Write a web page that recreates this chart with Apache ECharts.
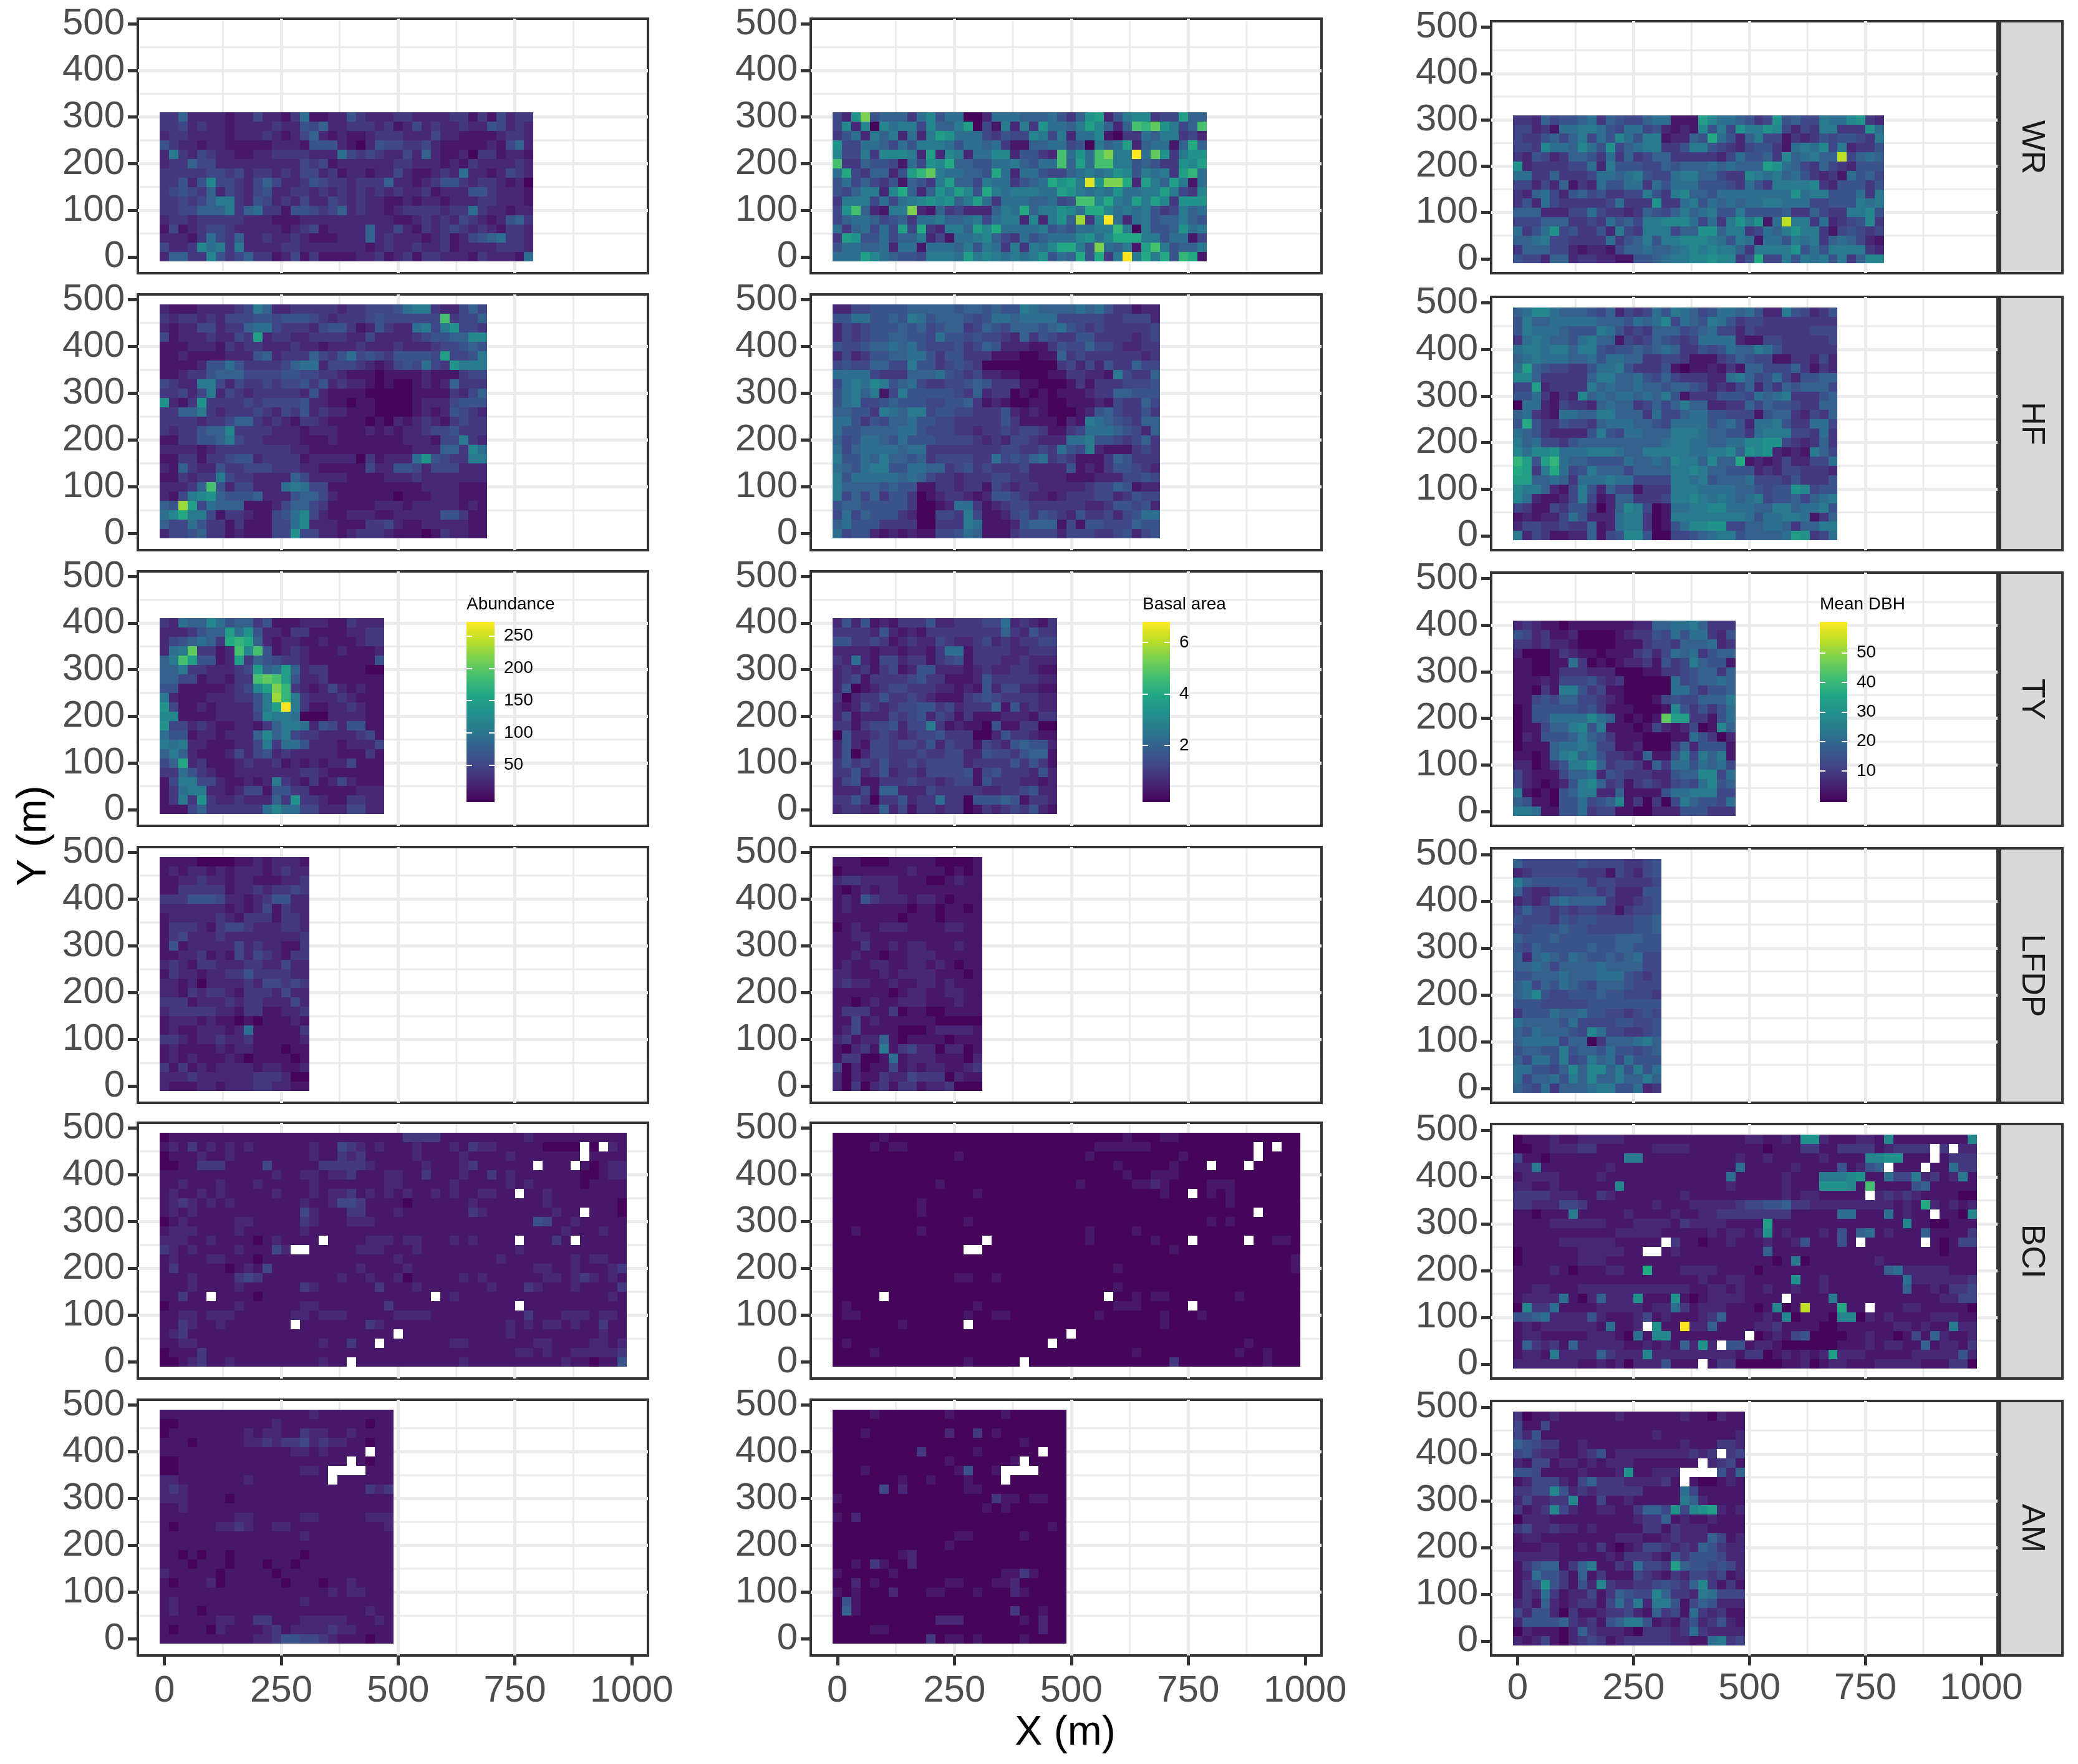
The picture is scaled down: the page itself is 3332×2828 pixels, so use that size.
<!DOCTYPE html>
<html><head><meta charset="utf-8">
<style>html,body{margin:0;padding:0;background:#fff}#c{width:3332px;height:2828px}</style>
<script src="https://cdn.jsdelivr.net/npm/echarts@6/dist/echarts.min.js"></script>
</head><body><div id="c"></div>
<script>
// Colour-scale position estimated by eye for each 20 m cell: 0..k = low..high in 5% steps, x = missing.
// Rows run from the top of the plot downward.
const plots=["WR","HF","TY","LFDP","BCI","AM"];
const measures=["Abundance","Basal area","Mean DBH"];
const valueRanges=[[-7.6,272],[-0.2,6.8],[-0.6,60.5]];
const legendTicks=[[50,100,150,200,250],[2,4,6],[10,20,30,40,50]];
const xTicks=[0,250,500,750,1000];
const yTicks=[0,100,200,300,400,500];
const xMinor=[125,375,625,875];
const yMinor=[50,150,250,350,450];

const abundanceWR=[
"3362222122 4221371122 5322233222 2331314233",
"3342322122 2232254622 3332312423 2232254232",
"2332222122 2321246212 1123332224 2211112332",
"5322122111 1122215552 1025443342 1111121462",
"2832432211 2233332227 4343224262 1120331221",
"2336442222 2222243412 2222233222 1213222232",
"3333344342 3323244231 2212242112 3272212432",
"3352594432 4642235433 2333622123 5532332120",
"3454362432 4522332323 2323232231 2225532221",
"3343468832 5423242243 2322112122 1222332221",
"3344666836 7331554346 2322123333 2337322122",
"2332333332 2211122222 2222211232 3243212563",
"1412344322 2221234122 2262242132 3432321332",
"2221374362 2322321112 2262322212 3124567332",
"4223978382 2223322222 2212322322 3122223332",
"2663395346 3312413111 1223123133 2221322217"];
const basalWR=[
"42ag566637 9577002777 6667536ab2 5899344b66",
"4929097884 9668b04182 83a7768b96 26edfa846e",
"3572868272 8ba7774354 4984827791 0337688342",
"a447764758 8875776731 1667745086 7b267716c6",
"9448399982 b298277992 5532e7a7eg 88k7fa38aa",
"e336554174 a9c6655778 6577e6b7ee 8856533a9b",
"7c436625bd f877665c72 7754467878 a958783bd7",
"5746435165 38b6648773 567cab8jag gc2b86b817",
"5468829c62 6a8b95c878 8877ba8787 a7788b8439",
"3888474789 a9a68b7377 766745ee9c 87b8b93aaa",
"4ae62188g2 1634222687 c688a97cc9 7878534867",
"4677645637 7866784788 2928a6h39k 7278566865",
"7367474b4c 32886b9c77 7785657788 d808556a78",
"3ba5574668 2417789643 7567779a79 ccc8857714",
"5776672771 7776858738 3879cc85g7 681be85668",
"777b976554 8887b89878 78a576c5c3 8k8c8c5dc1"];
const dbhWR=[
"3326455673 6544677111 b9776534a5 6448779a32",
"4423177887 5477452121 9584a88a94 24388333a7",
"4335646847 5975881226 5c75268441 3235455438",
"4439776975 a467883358 8543245531 7879482335",
"3254236653 7363466333 3324755639 67866i4676",
"a233334472 8555446566 6767666ba7 6436432555",
"7733633347 7678544788 6643398786 7532317564",
"4424261327 5577375777 5554375388 8893255535",
"3267425645 3344853896 6577777777 a788555738",
"3527433333 47333a3378 5767677887 7744555878",
"6662224474 3323654686 7855855556 3364338895",
"4446663343 7564889997 4738a8a17i 8837234593",
"7357a45335 2843888466 aa68834768 a883145434",
"6678443333 7356858899 9875871775 8783676421",
"3666442122 1466766789 8988638888 a575888832",
"5442662332 2115567889 9a9935c448 5878583699"];

const abundanceHF=[
"2111222234 8622333332 3344457883 22464",
"3233232444 5545554323 3345444444 e3446",
"2122442336 7743332455 3125322784 8a443",
"4122232243 b233223333 2242222345 56699",
"1112221323 3222322122 2322232223 44565",
"1121111222 5623336435 7454355554 b4458",
"1111255753 3334677244 4321245474 3a888",
"1123356664 4445544332 1110111121 11344",
"4322884243 3434453523 2210100121 26333",
"3342482432 3333325211 1100000111 13246",
"a213a33334 3444452211 0110000122 24555",
"3366832333 4324352322 1110000121 25432",
"3333233466 3232133211 1101021232 13433",
"3233566933 3322212221 1121212234 45333",
"1133556843 3222211121 1111112221 44832",
"2222123333 3333221111 1111111222 66397",
"1133133455 2333312222 20312227a5 43388",
"2163225334 4433322111 1142255424 44222",
"1132338433 2222642222 1111222322 22222",
"22236e5244 2227874411 1111111122 22111",
"21489a6555 6222566421 1111101112 22111",
"65hb476661 1124664311 1112221222 22121",
"79c8841332 1145794211 2221122222 55311",
"6447533131 1144792221 1133421122 22211",
"2445633121 1144a44221 2333211101 32211"];
const basalHF=[
"2244555566 6665665655 8766667675 33122",
"5577556587 5666545776 7777444443 34442",
"2434555656 4566346546 6656754343 33334",
"2434556655 4755454432 6354335533 33234",
"5445667675 4445346522 2113544644 32233",
"2423556677 5355333111 0011634333 33323",
"4544664485 5345430000 0000342425 33644",
"7777433366 6754342211 0001133221 84336",
"4787985674 3344565333 1100013133 34445",
"5786814855 5554362330 1010111233 66555",
"5784456555 4455631210 0110011121 43364",
"6655387688 4554433352 1210001256 43353",
"7753546675 5443333353 1111021876 54366",
"7556666775 4443323343 4431134777 65426",
"6457765755 5444432324 4322277855 43463",
"7467777677 3333333344 3343754821 11343",
"8557686656 3444433745 4673431113 65333",
"7657885577 6634534333 4222251213 55432",
"8577777676 4332333443 3222211122 24454",
"8666656551 1332331432 3322222344 65122",
"8464635530 1233212554 3221233344 23544",
"5665555530 0127731234 4333333223 55452",
"4746555320 0443841124 5354325334 24577",
"6755533330 0333871112 5666141554 44655",
"7455212121 1445761113 4444244433 45245"];
const dbhHF=[
"6799766654 6243475876 4577675228 54235",
"5866777776 6657679476 5875344333 33333",
"5877765558 7534366645 6744243333 33444",
"3787665786 6143465434 7777211443 33334",
"7887886885 4556567633 5457668753 33333",
"6787776675 7766334431 1134654411 33242",
"7b65443357 7853335101 1213166444 63132",
"9963333368 8667546433 3227864574 25566",
"44b2333386 7667665665 4232462536 56664",
"5573132967 6776768513 3355547678 33356",
"0772143326 7663464686 6223364655 43366",
"6732177668 8666374467 7554441566 32436",
"5c53354436 7776654777 7567527785 33774",
"7653222258 5477666888 7665537888 44373",
"8674435666 6666667887 7667799aa4 32363",
"9799a77788 8766888887 78896a9a21 21864",
"db5bd76655 5576676988 6966c12124 22447",
"cb38c74586 6646666889 8665552324 43332",
"bb66763777 8774444887 8566674443 53335",
"9886214852 6441333888 7777665455 a9455",
"9721124841 2663334889 8787678455 64678",
"4311435530 2698401778 8997776688 67785",
"1212247522 2788301888 8888875778 87136",
"2443343361 2788301579 9aa4466776 36688",
"8243112261 4599500445 6788566667 ba347"];

const abundanceTY=[
"3276697566 3511122211 3222",
"2223566b7a 5221331111 2233",
"2456763cdc 6212211211 1233",
"278f3312e9 e512321112 1112",
"68eb5512b3 6543321111 1115",
"6683322234 b67b623311 1100",
"6644122133 efeb522311 1111",
"5511111234 9bgd321242 1211",
"8211122233 58hd832223 2111",
"a411212222 58bk831122 3211",
"9911112222 4988700022 2211",
"a442321122 1368872542 5511",
"7551221222 6968433222 2341",
"8782211122 4837752221 2224",
"6862111242 4523222221 1131",
"46c2311123 2231212122 4111",
"3375321122 2222233211 1111",
"1488442112 1283213124 2111",
"1378822124 4155331111 1222",
"1383a32232 2263a33211 3322",
"1114633333 3797744222 4422"];
const basalTY=[
"2525121333 5223334472 3213",
"3333252121 3333333363 2533",
"5533431232 2432234232 3344",
"2222122122 1377133332 2333",
"3272144233 1345133322 3222",
"2323134125 5222123223 3211",
"2341333345 3311125333 3322",
"2501234433 3221215244 2211",
"3023353343 2111345433 3322",
"2124323445 5342333615 2322",
"2412224345 2431311122 2133",
"3313445244 8312110511 3300",
"0522343234 4533300253 3211",
"2521443443 5243314325 6552",
"2502443334 3344225443 5661",
"3534353343 4444233335 3531",
"3352352332 4444514533 3252",
"2451133343 3234415333 2212",
"2224166222 4333332233 4522",
"3353033523 3733055565 1332",
"2332262413 3233013234 3521"];
const dbhTY=[
"2321101111 1112266778 6333",
"5423112000 0123354757 7325",
"3323221000 0111344366 6723",
"2000132110 1113424767 3566",
"1100117301 0122315348 6551",
"1100133322 2000113345 6636",
"1112144453 2300000745 6676",
"1103188534 1100000775 3556",
"1145466443 2100014544 6668",
"0155555453 1110001953 5357",
"0155777797 610101fbb3 3157",
"0114668958 1110142124 0196",
"0215556865 3111000117 5302",
"0111677874 4112000362 5551",
"1101689675 3321611584 8681",
"22013588a6 3443163775 7674",
"4211146672 5433322566 9947",
"4210125896 3413432454 7956",
"8101056882 2611115778 8844",
"6511055745 6913030486 5547",
"8871155734 4110022255 5333"];

const abundanceLFDP=[
"1111000011 212221",
"1212212122 212322",
"1122322122 111223",
"1133333122 323343",
"3335554221 235522",
"2222222121 241322",
"1222223213 331332",
"1333213443 222332",
"1342223222 222223",
"1512222242 322113",
"1122312142 432133",
"2321332223 322422",
"1322122335 333322",
"2212022223 244343",
"2213233213 332422",
"3331222323 322242",
"2333332213 311223",
"1222121101 011121",
"1211222127 111113",
"3321223223 111112",
"1211112122 111011",
"1212111210 111101",
"3131212222 122112",
"2223222222 333200",
"2111221222 332211"];
const basalLFDP=[
"1110001111 100001",
"0111111121 110101",
"2332222111 001211",
"1012122111 111111",
"1215322212 210111",
"1211111101 101101",
"1111111011 101111",
"0121122211 112211",
"1122111111 111111",
"1113112122 111211",
"1121101122 211111",
"1211221122 121011",
"2211121222 211101",
"2322112112 212111",
"1111110122 112211",
"1101211222 111211",
"1333113011 001111",
"1141211111 100000",
"1241111000 122221",
"2312261011 110111",
"1023181342 202201",
"1330017122 211102",
"4020114121 221123",
"2021132243 330211",
"2030231331 223000"];
const dbhLFDP=[
"6444444544 443345",
"2344444333 143245",
"8655555534 433334",
"6322344553 422255",
"2323676666 322345",
"4644343443 313445",
"5444354554 444556",
"4455565544 444556",
"6555655555 566655",
"5465555565 566555",
"6267657655 656744",
"6676466667 666644",
"5566676667 775434",
"6746576546 665444",
"6795445556 554443",
"5554444455 555555",
"3555766755 443454",
"7666657444 455445",
"6576665497 443345",
"6777746603 666786",
"5665585665 755456",
"6477584586 747555",
"7755469699 685857",
"7466758696 686686",
"6547366678 855723"];

const abundanceBCI=[
"0111111111 1111111111 1111113333 1111111112 1111111111",
"1213121212 1111112114 3212111211 1213221111 10000x0x21",
"0111211211 1111112113 2311111211 1121111211 11111x1111",
"0011333111 1411111333 3321111121 1123111111 x111x10122",
"1111111111 1121122122 3111221131 1121131211 1111100122",
"1121112111 2111112111 1111221111 1211111212 1111101111",
"1211212111 1121112122 3121212112 12112211x1 1211111111",
"1232121211 1111121124 4311110111 1112111111 1211111110",
"1212111111 1111142111 3311121111 1113211111 11211x1110",
"0121111122 1111132111 2221111111 1111111111 5411211111",
"1222111121 1111121111 1111111111 1111111111 1112111211",
"2221121111 0121111x11 1122212211 12121111x1 1131x11111",
"3212111121 1142xx1111 1222111211 1111111121 1111111111",
"1211122111 0111111111 1111121111 1111112111 1111212211",
"1311111012 1411111111 1211112111 1111111111 2211211123",
"1112111134 3111111112 1121120111 1121211111 1221232121",
"1112111121 1111132111 1113111211 1111121113 2111211113",
"11311x1111 0111111111 111111111x 1211111111 1111111121",
"0111111121 1111122111 1111311111 11111111x1 1111111111",
"1122122211 1111221222 1111122221 1111111113 1112221221",
"1132112111 1111x11111 1132111111 1111111212 1221211311",
"1231111111 1111111111 11111x1111 1111111211 1111111211",
"1122111111 1111111211 311x111111 1221111111 2211112212",
"0111311111 1111111111 1111111111 1111111122 1211222223",
"0012311211 1111111211 x111111111 1121111111 1112110115"];
const basalBCI=[
"0000010000 0000000000 0000000000 0100011000 0000000000",
"0000101100 0000000000 0000000011 1111000000 00000x0x00",
"0000000000 0001000000 0000000100 0000000100 00000x0000",
"0000000000 0000000000 0000000000 1000001000 x000x00000",
"0000000000 0000000000 0000000000 0100111000 0000000000",
"0000000000 0100000000 0000001000 0011210000 1110000000",
"0000000000 0000010000 0000000000 00000100x0 1010000000",
"0000000001 0000000000 0000000000 0000000000 0010000000",
"0000000001 0000000000 0000000000 0000000000 00000x0000",
"0000000000 0000100000 0000000000 0000000000 1010000000",
"0010000001 0000000000 0000000100 0010000000 0000000000",
"0000000000 000000x000 0000000100 00001000x0 0000x00110",
"0000000000 0000xx0000 0000000000 0000001000 0000000000",
"0000000000 0000000000 0000000000 0000000000 0000000001",
"0000000000 0000000000 0000000000 1000000000 0000000001",
"0000000000 0001100100 0000000000 0000000000 0000000000",
"0000000000 0000000000 0000000000 1000000000 0000000000",
"00000x0000 0000000000 000000000x 0010110000 0001000000",
"0100000000 0000010000 0000000000 11100000x0 0000000000",
"0110000000 0000100110 0000000010 0000010001 0000000000",
"0000000100 0000x00000 0000000000 0000010000 0000000000",
"0000000000 0000000000 00000x0000 0000000000 0000000000",
"0100000000 0000000000 000x000000 0000000000 0000100000",
"0000100000 0000000000 0000000000 0010000000 0001001000",
"0000000000 0000100000 x000000000 0000003000 0000001000"];
const dbhBCI=[
"0111211222 2211111111 1111122112 1aa2111221 9111111119",
"0011222331 1111122221 1111111011 1331133331 23333x3x22",
"4110111111 1188111111 1111211211 1112111199 aa111x1333",
"2281111111 2111111111 1111711111 2111151256 x111x11733",
"1222211112 1111111111 1117111112 1118889a11 7448231281",
"2211211111 1911111111 1112111112 111aaa91e1 1115611111",
"3333222113 2111111121 1111111112 12211111x2 3232111100",
"3322244311 1111121112 2222344556 3322222222 2121c21212",
"1101118111 1121111211 2233333333 1111177111 71211x1109",
"1111222222 1112222132 2221111b11 1111111111 1191100111",
"1111111111 1222221111 1212212a12 1112151671 2111611113",
"1111122222 211111x311 0112111211 2511151x11 1111x10144",
"0111111222 2211xx1211 1111111611 1111111111 1111110111",
"0111111222 1111111111 1111111101 8011111112 1111111111",
"1111210111 2211c11122 2211110111 1111111111 6722222111",
"1111111111 1111111111 2112211111 a112111111 1172222223",
"1122111222 2222222221 1221211211 2112111111 1161121334",
"1222271026 222a111a10 122221111x 1111811111 1111112244",
"0933711112 2222122731 2221110190 1i111c11x1 1122111110",
"5567222252 1112412111 2361111219 0111099021 2111122211",
"1212222221 7112xa11k2 2611112231 1110011111 1221211822",
"1221111122 2107199111 11111x0121 4500001121 1014162112",
"1632316222 2211212162 a2x5512210 0000011121 2211612213",
"1221822226 3222922222 2222133012 1212b22211 1112222252",
"2222222112 1202225111 x133000001 1201221112 2222111330"];

const abundanceAM=[
"1111111111 1111112111 11111",
"0011111111 1121111111 11011",
"0111111112 1221132211 21111",
"1110111112 2323342322 11011",
"1111111111 1111221211 11x11",
"0011111111 1111111111 x1011",
"0011111111 11111221xx xx111",
"2211111112 11111111x1 11111",
"2321111111 1111111111 11323",
"2221111011 1111111111 11111",
"1121111111 1111111111 11111",
"1111111122 1111122111 11222",
"1011112232 1122111111 11112",
"1111111111 1111121111 11111",
"1111111111 1111111111 11111",
"1101011011 1111101111 11111",
"1110111011 1011011111 11111",
"2111110111 1101111111 11111",
"1011120111 1110111011 21111",
"1111111111 1111111121 22111",
"1211111111 1111121111 11111",
"1211011111 1111111111 11211",
"1111112211 3311122222 11121",
"1011102111 1231222232 21111",
"1111111111 2235544321 11011"];
const basalAM=[
"0000100000 0010000010 00000",
"0000000000 0000000000 00000",
"0001000000 0020030100 00000",
"0000000000 0000000000 10000",
"0000000003 0000010000 00x00",
"0000000000 0010000001 x0000",
"0001000000 00015001xx xx000",
"0000000100 10001000x0 00000",
"0000040200 0000110000 00000",
"1000000000 0000000311 01100",
"0000000000 0000001010 00000",
"1020000000 0000000000 00000",
"0000000000 0000000000 00010",
"0000000000 0001100000 10000",
"0000000000 0010000000 00000",
"0000000120 0000000000 00000",
"0010310020 0000000000 00000",
"1000001000 0000000011 31000",
"0020100000 0011000112 00000",
"1010002000 1100010002 10000",
"0510000000 0000000000 00000",
"0610000000 0000000003 00100",
"0000000000 0222000000 10200",
"0000110000 0000000000 00200",
"0000000000 3011010000 10000"];
const dbhAM=[
"3011211111 1211111121 10211",
"4114111111 1111111111 11111",
"4251111111 1111121111 11112",
"6543311211 1111111121 11332",
"4532211235 1222222223 23x34",
"2144122121 2221111111 x2341",
"5541111211 12a11222xx xx526",
"1244421463 33222231x1 00121",
"3344952323 3333111174 11111",
"2422339114 1121111186 21111",
"3123942112 2113664a49 ab212",
"0222111111 1112336121 12111",
"3422322121 1111331322 21111",
"1221111111 1222112322 26412",
"1112211213 1012443232 65322",
"2222211111 2133321535 55422",
"1356613681 1327443b65 54542",
"1275531613 1114321324 43412",
"134a531529 3223345436 93131",
"1327312241 3654496332 87444",
"2316212331 4748288514 65222",
"4255203112 3342163417 32311",
"2555563231 5688512135 23521",
"0211102632 2210333237 32222",
"2124102343 1233333221 17834"];

const cellData=[
 [abundanceWR,abundanceHF,abundanceTY,abundanceLFDP,abundanceBCI,abundanceAM],
 [basalWR,basalHF,basalTY,basalLFDP,basalBCI,basalAM],
 [dbhWR,dbhHF,dbhTY,dbhLFDP,dbhBCI,dbhAM]];

const VIRIDIS=['#440154','#482475','#414487','#355f8d','#2a788e','#21918c','#22a884','#44bf70','#7ad151','#bddf26','#fde725'];
const CODES="0123456789abcdefghijk";
const MISSING=-1e6;

const colX=[[221,1039],[1300,2119],[2391,3203]];
const rowY=[[30,438],[472,882],[916,1324],[1358,1768],[1800,2210],[2244,2654]];
const rowYLast=[[34,438],[476,882],[918,1324],[1360,1768],[1802,2210],[2246,2654]];
const stripX=[3207,3307];
const barX=[[748,793],[1832,1876],[2918,2962]];
const barY=[997,1286];
const XR=[-57,1035];
const YRs=[[-35,511],[-35,511],[-31,513]];
const labelGapX=[27,27,23];
const TICK='#333333', LABEL='#4d4d4d', GRID='#ebebeb';

function decode(rows,range){
  const out=[];
  rows.forEach((row,j)=>{
    const clean=row.replace(/ /g,'');
    const y=(rows.length-1-j)*20;
    for(let i=0;i<clean.length;i++){
      const c=clean[i];
      const v=c==='x'?MISSING:range[0]+(CODES.indexOf(c)+0.3)/20.3*(range[1]-range[0]);
      out.push([i*20,y,v]);
    }
  });
  return out;
}
function tile(params,api){
  const x=api.value(0),y=api.value(1);
  const a=api.coord([x-10,y+10]),b=api.coord([x+10,y-10]);
  const l=Math.round(a[0]),t=Math.round(a[1]),r=Math.round(b[0]),d=Math.round(b[1]);
  return {type:'rect',shape:{x:l,y:t,width:r-l,height:d-t},style:{fill:api.value(2)===MISSING?'#ffffff':api.visual('color')}};
}

const grids=[],xAxes=[],yAxes=[],series=[],graphics=[];
const tileSeriesByCol=[[],[],[]];
for(let c=0;c<3;c++){
  const YR=YRs[c];
  for(let r=0;r<6;r++){
    const ys=(c===2?rowYLast:rowY)[r];
    const gi=grids.length, xi=xAxes.length, yi=yAxes.length;
    grids.push({left:colX[c][0],top:ys[0],width:colX[c][1]-colX[c][0],height:ys[1]-ys[0],
      show:true,borderColor:TICK,borderWidth:4,backgroundColor:'#fff',containLabel:false});
    const bottom=r===5;
    xAxes.push({type:'value',gridIndex:gi,min:XR[0],max:XR[1],interval:250,
      axisLine:{show:false,onZero:false},
      axisTick:{show:bottom,customValues:xTicks,length:16,lineStyle:{color:TICK,width:5}},
      axisLabel:{show:bottom,customValues:xTicks,margin:labelGapX[c],fontSize:60,color:LABEL,fontFamily:'Liberation Sans',formatter:v=>String(v)},
      splitLine:{show:true,showMinLine:false,showMaxLine:false,lineStyle:{color:GRID,width:5}},
      minorTick:{show:false},minorSplitLine:{show:false}});
    yAxes.push({type:'value',gridIndex:gi,min:YR[0],max:YR[1],interval:100,
      axisLine:{show:false,onZero:false},
      axisTick:{show:true,customValues:yTicks,length:16,lineStyle:{color:TICK,width:5}},
      axisLabel:{show:true,customValues:yTicks,margin:21,fontSize:60,color:LABEL,fontFamily:'Liberation Sans',padding:[14,0,0,0]},
      splitLine:{show:true,showMinLine:false,showMaxLine:false,lineStyle:{color:GRID,width:5}},
      minorTick:{show:false},minorSplitLine:{show:false}});
    const minorLines=[...xMinor.map(v=>[v,YR[0]+3,v,YR[1]-3]),...yMinor.map(v=>[XR[0]+3,v,XR[1]-3,v])];
    series.push({type:'custom',name:'minor grid',xAxisIndex:xi,yAxisIndex:yi,silent:true,z:1,clip:false,animation:false,
      encode:{x:0,y:1},data:minorLines,renderItem:(p,api)=>{
        const a=api.coord([api.value(0),api.value(1)]),b=api.coord([api.value(2),api.value(3)]);
        return {type:'line',shape:{x1:a[0],y1:a[1],x2:b[0],y2:b[1]},style:{stroke:GRID,lineWidth:3}};
      }});
    tileSeriesByCol[c].push(series.length);
    series.push({type:'custom',name:plots[r]+' '+measures[c],xAxisIndex:xi,yAxisIndex:yi,z:3,clip:false,silent:true,
      progressive:0,animation:false,renderItem:tile,encode:{x:0,y:1},data:decode(cellData[c][r],valueRanges[c])});
  }
  const gi=grids.length,xi=xAxes.length,range=valueRanges[c],BINS=120,step=(range[1]-range[0])/BINS;
  grids.push({left:barX[c][0],top:barY[0],width:barX[c][1]-barX[c][0],height:barY[1]-barY[0],show:false});
  xAxes.push({type:'value',gridIndex:gi,min:0,max:1,show:false});
  const yi=yAxes.length;
  const tickStyle={color:'#fff',width:2};
  yAxes.push({type:'value',gridIndex:gi,position:'right',min:range[0],max:range[1],z:6,
    axisLine:{show:false,onZero:false},splitLine:{show:false},
    axisTick:{show:true,inside:true,customValues:legendTicks[c],length:9,lineStyle:tickStyle},
    axisLabel:{show:true,customValues:legendTicks[c],margin:15,fontSize:28,color:'#000',fontFamily:'Liberation Sans'}});
  yAxes.push({type:'value',gridIndex:gi,position:'left',min:range[0],max:range[1],z:6,
    axisLine:{show:false,onZero:false},splitLine:{show:false},
    axisTick:{show:true,inside:true,customValues:legendTicks[c],length:9,lineStyle:tickStyle},
    axisLabel:{show:false}});
  const bins=[];for(let i=0;i<BINS;i++)bins.push([0,range[0]+(i+.5)*step,range[0]+(i+.5)*step]);
  tileSeriesByCol[c].push(series.length);
  series.push({type:'custom',name:measures[c]+' legend',xAxisIndex:xi,yAxisIndex:yi,z:3,silent:true,progressive:0,animation:false,
    encode:{x:0,y:1},data:bins,renderItem:(p,api)=>{
      const a=api.coord([0,api.value(1)+step/2]),b=api.coord([1,api.value(1)-step/2]);
      const t=Math.floor(a[1]),d=Math.ceil(b[1]);
      return {type:'rect',shape:{x:a[0],y:t,width:b[0]-a[0],height:d-t},style:{fill:api.visual('color')}};
    }});
  graphics.push({type:'text',z:20,left:barX[c][0],top:barY[0]-42,style:{text:measures[c],fontSize:28,fill:'#000',fontFamily:'Liberation Sans'}});
}
plots.forEach((p,r)=>{
  const ys=rowYLast[r];
  graphics.push({type:'rect',z:10,shape:{x:stripX[0],y:ys[0],width:stripX[1]-stripX[0],height:ys[1]-ys[0]},style:{fill:'#d9d9d9',stroke:TICK,lineWidth:4}});
  graphics.push({type:'text',z:11,x:(stripX[0]+stripX[1])/2,y:(ys[0]+ys[1])/2,rotation:-Math.PI/2,
    style:{text:p,fontSize:52,fill:'#1a1a1a',fontFamily:'Liberation Sans',align:'center',verticalAlign:'middle'}});
});
graphics.push({type:'text',z:11,x:1708,y:2779,style:{text:'X (m)',fontSize:66,fill:'#000',fontFamily:'Liberation Sans',align:'center',verticalAlign:'middle'}});
graphics.push({type:'text',z:11,x:55,y:1340,rotation:Math.PI/2,style:{text:'Y (m)',fontSize:66,fill:'#000',fontFamily:'Liberation Sans',align:'center',verticalAlign:'middle'}});

const chart=echarts.init(document.getElementById('c'),null,{renderer:'canvas'});
chart.setOption({animation:false,backgroundColor:'#fff',
  grid:grids,xAxis:xAxes,yAxis:yAxes,series,graphic:{elements:graphics},
  visualMap:[0,1,2].map(c=>({type:'continuous',show:false,min:valueRanges[c][0],max:valueRanges[c][1],
    seriesIndex:tileSeriesByCol[c],dimension:2,inRange:{color:VIRIDIS},outOfRange:{color:'#ffffff'}}))});
</script></body></html>
